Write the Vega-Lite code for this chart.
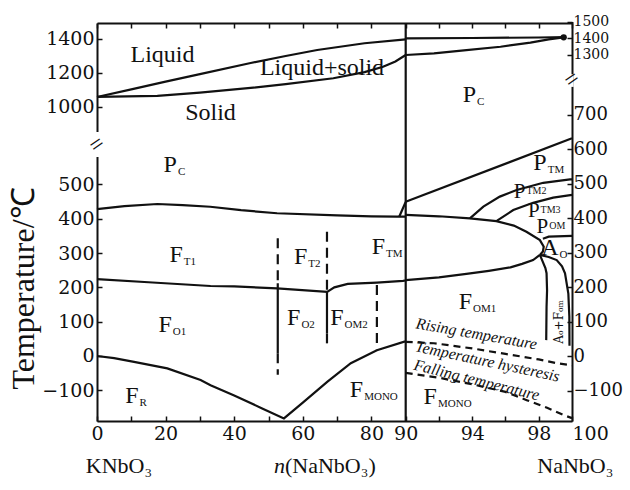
{
  "$schema": "https://vega.github.io/schema/vega-lite/v6.json",
  "width": 475,
  "height": 398,
  "autosize": "none",
  "padding": {"left": 97, "top": 23, "right": 58, "bottom": 69},
  "background": "white",
  "config": {"view": {"stroke": null}},
  "datasets": {
    "solidL": [
      {"id": "L1", "o": 0, "x": 0, "y": 1059}, {"id": "L1", "o": 1, "x": 10, "y": 1104}, {"id": "L1", "o": 2, "x": 20, "y": 1149}, {"id": "L1", "o": 3, "x": 30, "y": 1193}, {"id": "L1", "o": 4, "x": 44.8, "y": 1259}, {"id": "L1", "o": 5, "x": 55, "y": 1300}, {"id": "L1", "o": 6, "x": 64.2, "y": 1335}, {"id": "L1", "o": 7, "x": 78, "y": 1375}, {"id": "L1", "o": 8, "x": 90, "y": 1398},
      {"id": "L2", "o": 0, "x": 0, "y": 1059}, {"id": "L2", "o": 1, "x": 17.6, "y": 1065}, {"id": "L2", "o": 2, "x": 30, "y": 1085}, {"id": "L2", "o": 3, "x": 44.8, "y": 1112}, {"id": "L2", "o": 4, "x": 55, "y": 1135}, {"id": "L2", "o": 5, "x": 68.9, "y": 1169}, {"id": "L2", "o": 6, "x": 78, "y": 1205}, {"id": "L2", "o": 7, "x": 83.4, "y": 1237}, {"id": "L2", "o": 8, "x": 87, "y": 1268}, {"id": "L2", "o": 9, "x": 90, "y": 1306},
      {"id": "L3", "o": 0, "x": 0, "y": 428}, {"id": "L3", "o": 1, "x": 8, "y": 437}, {"id": "L3", "o": 2, "x": 17.6, "y": 443}, {"id": "L3", "o": 3, "x": 25, "y": 440}, {"id": "L3", "o": 4, "x": 33, "y": 435}, {"id": "L3", "o": 5, "x": 42, "y": 425}, {"id": "L3", "o": 6, "x": 52.5, "y": 416}, {"id": "L3", "o": 7, "x": 70, "y": 410}, {"id": "L3", "o": 8, "x": 80, "y": 407}, {"id": "L3", "o": 9, "x": 87.4, "y": 406}, {"id": "L3", "o": 10, "x": 90, "y": 406},
      {"id": "L3b", "o": 0, "x": 88.1, "y": 406}, {"id": "L3b", "o": 1, "x": 90, "y": 449},
      {"id": "L4", "o": 0, "x": 0, "y": 224}, {"id": "L4", "o": 1, "x": 15, "y": 215}, {"id": "L4", "o": 2, "x": 33.1, "y": 204}, {"id": "L4", "o": 3, "x": 40, "y": 203}, {"id": "L4", "o": 4, "x": 52.5, "y": 197}, {"id": "L4", "o": 5, "x": 67.1, "y": 187}, {"id": "L4", "o": 6, "x": 69.2, "y": 200}, {"id": "L4", "o": 7, "x": 73.1, "y": 210}, {"id": "L4", "o": 8, "x": 81.6, "y": 214}, {"id": "L4", "o": 9, "x": 89.2, "y": 219}, {"id": "L4", "o": 10, "x": 90, "y": 220},
      {"id": "L5", "o": 0, "x": 0, "y": 0}, {"id": "L5", "o": 1, "x": 5, "y": -6}, {"id": "L5", "o": 2, "x": 10.8, "y": -17}, {"id": "L5", "o": 3, "x": 20.5, "y": -36}, {"id": "L5", "o": 4, "x": 30.2, "y": -70}, {"id": "L5", "o": 5, "x": 33.1, "y": -85}, {"id": "L5", "o": 6, "x": 40, "y": -115}, {"id": "L5", "o": 7, "x": 48, "y": -152}, {"id": "L5", "o": 8, "x": 54.5, "y": -182}, {"id": "L5", "o": 9, "x": 60, "y": -136}, {"id": "L5", "o": 10, "x": 67.2, "y": -75}, {"id": "L5", "o": 11, "x": 74, "y": -21}, {"id": "L5", "o": 12, "x": 81.6, "y": 17}, {"id": "L5", "o": 13, "x": 89.6, "y": 42}, {"id": "L5", "o": 14, "x": 90, "y": 42},
      {"id": "V1s", "o": 0, "x": 52.7, "y": 212}, {"id": "V1s", "o": 1, "x": 52.7, "y": 8},
      {"id": "V2s", "o": 0, "x": 67.05, "y": 187}, {"id": "V2s", "o": 1, "x": 67.05, "y": 66},
      {"id": "V90", "o": 0, "x": 90, "y": -189.5}, {"id": "V90", "o": 1, "x": 90, "y": 1494}
    ],
    "dashL": [
      {"id": "V1a", "o": 0, "x": 52.7, "y": 343}, {"id": "V1a", "o": 1, "x": 52.7, "y": 212},
      {"id": "V1b", "o": 0, "x": 52.7, "y": 8}, {"id": "V1b", "o": 1, "x": 52.7, "y": -55},
      {"id": "V2a", "o": 0, "x": 67.05, "y": 362}, {"id": "V2a", "o": 1, "x": 67.05, "y": 187},
      {"id": "V2b", "o": 0, "x": 67.05, "y": 66}, {"id": "V2b", "o": 1, "x": 67.05, "y": 27},
      {"id": "V3", "o": 0, "x": 81.6, "y": 207}, {"id": "V3", "o": 1, "x": 81.6, "y": 20}
    ],
    "solidR": [
      {"id": "R1", "o": 0, "x": 90, "y": 1398}, {"id": "R1", "o": 1, "x": 94, "y": 1400}, {"id": "R1", "o": 2, "x": 98, "y": 1403}, {"id": "R1", "o": 3, "x": 99.6, "y": 1405},
      {"id": "R2", "o": 0, "x": 90, "y": 1297}, {"id": "R2", "o": 1, "x": 91.7, "y": 1307}, {"id": "R2", "o": 2, "x": 93.5, "y": 1325}, {"id": "R2", "o": 3, "x": 95.7, "y": 1347}, {"id": "R2", "o": 4, "x": 97.5, "y": 1372}, {"id": "R2", "o": 5, "x": 98.6, "y": 1392}, {"id": "R2", "o": 6, "x": 99.6, "y": 1405},
      {"id": "R3", "o": 0, "x": 90, "y": 447}, {"id": "R3", "o": 1, "x": 100, "y": 631},
      {"id": "R4", "o": 0, "x": 90, "y": 409}, {"id": "R4", "o": 1, "x": 92, "y": 405}, {"id": "R4", "o": 2, "x": 93.86, "y": 399}, {"id": "R4", "o": 3, "x": 95.45, "y": 391}, {"id": "R4", "o": 4, "x": 96.5, "y": 378}, {"id": "R4", "o": 5, "x": 97.26, "y": 360}, {"id": "R4", "o": 6, "x": 98.07, "y": 336}, {"id": "R4", "o": 7, "x": 98.3, "y": 317}, {"id": "R4", "o": 8, "x": 98.25, "y": 303}, {"id": "R4", "o": 9, "x": 98.07, "y": 293},
      {"id": "R5", "o": 0, "x": 90, "y": 220}, {"id": "R5", "o": 1, "x": 92, "y": 228}, {"id": "R5", "o": 2, "x": 93.65, "y": 238}, {"id": "R5", "o": 3, "x": 95, "y": 247}, {"id": "R5", "o": 4, "x": 96.3, "y": 257}, {"id": "R5", "o": 5, "x": 97, "y": 267}, {"id": "R5", "o": 6, "x": 97.66, "y": 278}, {"id": "R5", "o": 7, "x": 98.07, "y": 293},
      {"id": "R6", "o": 0, "x": 93.86, "y": 399}, {"id": "R6", "o": 1, "x": 94.67, "y": 433}, {"id": "R6", "o": 2, "x": 95.66, "y": 462}, {"id": "R6", "o": 3, "x": 96.67, "y": 481}, {"id": "R6", "o": 4, "x": 98.27, "y": 502}, {"id": "R6", "o": 5, "x": 99.88, "y": 512}, {"id": "R6", "o": 6, "x": 100, "y": 512},
      {"id": "R7", "o": 0, "x": 95.45, "y": 391}, {"id": "R7", "o": 1, "x": 96.47, "y": 423}, {"id": "R7", "o": 2, "x": 97.66, "y": 444}, {"id": "R7", "o": 3, "x": 98.87, "y": 459}, {"id": "R7", "o": 4, "x": 100, "y": 467},
      {"id": "R8", "o": 0, "x": 98.25, "y": 340}, {"id": "R8", "o": 1, "x": 98.6, "y": 346}, {"id": "R8", "o": 2, "x": 100, "y": 348},
      {"id": "R9", "o": 0, "x": 98.07, "y": 293}, {"id": "R9", "o": 1, "x": 98.4, "y": 255}, {"id": "R9", "o": 2, "x": 98.47, "y": 240}, {"id": "R9", "o": 3, "x": 98.5, "y": 190}, {"id": "R9", "o": 4, "x": 98.47, "y": 143}, {"id": "R9", "o": 5, "x": 98.45, "y": 46},
      {"id": "R10", "o": 0, "x": 98.07, "y": 293}, {"id": "R10", "o": 1, "x": 98.6, "y": 287}, {"id": "R10", "o": 2, "x": 99.08, "y": 278}, {"id": "R10", "o": 3, "x": 99.4, "y": 260}, {"id": "R10", "o": 4, "x": 99.58, "y": 240}, {"id": "R10", "o": 5, "x": 99.78, "y": 181}, {"id": "R10", "o": 6, "x": 99.84, "y": 114}, {"id": "R10", "o": 7, "x": 99.85, "y": 30}
    ],
    "dashR": [
      {"id": "D1", "o": 0, "x": 90, "y": 41}, {"id": "D1", "o": 1, "x": 91.7, "y": 37}, {"id": "D1", "o": 2, "x": 94, "y": 22}, {"id": "D1", "o": 3, "x": 96, "y": 6}, {"id": "D1", "o": 4, "x": 98, "y": -10}, {"id": "D1", "o": 5, "x": 99.1, "y": -21}, {"id": "D1", "o": 6, "x": 100, "y": -27},
      {"id": "D2", "o": 0, "x": 90, "y": -49}, {"id": "D2", "o": 1, "x": 92, "y": -63}, {"id": "D2", "o": 2, "x": 94, "y": -82}, {"id": "D2", "o": 3, "x": 96, "y": -104}, {"id": "D2", "o": 4, "x": 97.28, "y": -128}, {"id": "D2", "o": 5, "x": 98.5, "y": -150}, {"id": "D2", "o": 6, "x": 99.48, "y": -171}, {"id": "D2", "o": 7, "x": 100, "y": -180}
    ],
    "labL": [
      {"x": 23.3, "y": 557, "m": "P", "s": "C"},
      {"x": 25, "y": 294, "m": "F", "s": "T1"},
      {"x": 21.8, "y": 90, "m": "F", "s": "O1"},
      {"x": 12.1, "y": -117, "m": "F", "s": "R"},
      {"x": 61.3, "y": 288, "m": "F", "s": "T2"},
      {"x": 59.3, "y": 110, "m": "F", "s": "O2"},
      {"x": 71.9, "y": 110, "m": "F", "s": "OM2"},
      {"x": 84, "y": 318, "m": "F", "s": "TM"},
      {"x": 77.6, "y": -99, "m": "F", "s": "MONO"}
    ],
    "labR": [
      {"x": 94.23, "y": 757, "m": "P", "s": "C"},
      {"x": 98.48, "y": 558, "m": "P", "s": "TM"},
      {"x": 99.19, "y": 312, "m": "A", "s": "O"},
      {"x": 93.99, "y": 157, "m": "F", "s": "OM1"},
      {"x": 91.88, "y": -118, "m": "F", "s": "MONO"}
    ],
    "labR2": [
      {"x": 97.2, "y": 474, "m": "P", "s": "TM2"},
      {"x": 98.05, "y": 421, "m": "P", "s": "TM3"},
      {"x": 98.57, "y": 374, "m": "P", "s": "OM"}
    ],
    "plainL": [
      {"x": 19.1, "y": 1306, "t": "Liquid"},
      {"x": 65.6, "y": 1228, "t": "Liquid+solid"},
      {"x": 33.1, "y": 963, "t": "Solid"}
    ],
    "botL": [
      {"x": 6.4, "y": -320.7, "t": "KNbO₃"},
      {"x": 100.2, "y": -320.7, "t": "NaNbO₃"}
    ]
  },
  "layer": [
    {
      "encoding": {
        "x": {"field": "x", "type": "quantitative",
          "scale": {"domain": [0, 90, 100], "range": [0, 308.7, 475], "nice": false, "zero": false},
          "axis": {"orient": "bottom", "values": [0, 10, 20, 30, 40, 50, 60, 70, 80, 90, 92, 94, 96, 98, 100],
            "labelExpr": "indexof([0,20,40,60,80,90,94,98,100], datum.value) >= 0 ? datum.label : ''",
            "labelAlign": {"condition": {"test": "datum.value == 100", "value": "left"}, "value": "center"},
            "labelFont": "DejaVu Serif", "labelFontSize": 19, "labelColor": "#111", "labelPadding": 8, "labelFlush": false, "labelOverlap": false,
            "tickColor": "#111", "tickSize": -5, "tickWidth": 1.5, "domainColor": "#111", "domainWidth": 2, "grid": false, "title": null}},
        "y": {"field": "y", "type": "quantitative",
          "scale": {"domain": [-189.5, 615, 776.5, 1494], "range": [398, 122, 122, 0], "nice": false, "zero": false},
          "axis": {"orient": "left", "values": [-100, 0, 100, 200, 300, 400, 500, 1000, 1200, 1400], "format": "d",
            "labelFont": "DejaVu Serif", "labelFontSize": 19, "labelColor": "#111", "labelPadding": 8, "labelFlush": false, "labelOverlap": false,
            "tickColor": "#111", "tickSize": -5, "tickWidth": 1.5, "domainColor": "#111", "domainWidth": 2, "grid": false,
            "title": "Temperature/℃", "titleFont": "Liberation Serif", "titleFontSize": 32, "titleFontWeight": "normal", "titleColor": "#111",
            "titleX": -74, "titleY": 265, "titleAngle": 270, "titleAlign": "center", "titleBaseline": "middle"}}
      },
      "layer": [
        {"data": {"name": "solidL"}, "mark": {"type": "line", "color": "#111", "strokeWidth": 2.2},
          "encoding": {"detail": {"field": "id"}, "order": {"field": "o", "type": "quantitative"}}},
        {"data": {"name": "dashL"}, "mark": {"type": "line", "color": "#111", "strokeWidth": 2.2, "strokeDash": [10, 6]},
          "encoding": {"detail": {"field": "id"}, "order": {"field": "o", "type": "quantitative"}}},
        {"data": {"values": [{"x": -1.6, "x2": 1.6, "y": 580, "y2": 853}]}, "mark": {"type": "rect", "color": "white"},
          "encoding": {"x2": {"field": "x2"}, "y2": {"field": "y2"}}},
        {"data": {"values": [{"x": 0, "y": 700}]}, "mark": {"type": "text", "text": "=", "font": "Liberation Serif", "fontSize": 24, "angle": -35, "color": "#111", "align": "center", "baseline": "middle"}},
        {"data": {"name": "labL"}, "mark": {"type": "text", "align": "right", "baseline": "middle", "font": "Liberation Serif", "fontSize": 24, "color": "#111"},
          "encoding": {"text": {"field": "m"}}},
        {"data": {"name": "labL"}, "mark": {"type": "text", "align": "left", "baseline": "middle", "dy": 7, "dx": 1, "font": "Liberation Serif", "fontSize": 11, "color": "#111"},
          "encoding": {"text": {"field": "s"}}},
        {"data": {"name": "plainL"}, "mark": {"type": "text", "align": "center", "baseline": "middle", "font": "Liberation Serif", "fontSize": 24, "color": "#111"},
          "encoding": {"text": {"field": "t"}}},
        {"data": {"name": "botL"}, "mark": {"type": "text", "align": "center", "baseline": "middle", "font": "Liberation Serif", "fontSize": 22, "color": "#111"},
          "encoding": {"text": {"field": "t"}}},
        {"data": {"values": [{"x": 54.8, "y": -320.7}]}, "mark": {"type": "text", "text": "n", "align": "right", "baseline": "middle", "font": "Liberation Serif", "fontStyle": "italic", "fontSize": 22, "color": "#111"}},
        {"data": {"values": [{"x": 54.8, "y": -320.7}]}, "mark": {"type": "text", "text": "(NaNbO₃)", "align": "left", "baseline": "middle", "font": "Liberation Serif", "fontSize": 22, "color": "#111"}}
      ]
    },
    {
      "encoding": {
        "x": {"field": "x", "type": "quantitative",
          "scale": {"domain": [0, 90, 100], "range": [0, 308.7, 475], "nice": false, "zero": false},
          "axis": {"orient": "top", "values": [0, 10, 20, 30, 40, 50, 60, 70, 80, 90, 92, 94, 96, 98, 100], "labels": false,
            "tickColor": "#111", "tickSize": -5, "tickWidth": 1.5, "domainColor": "#111", "domainWidth": 2, "grid": false, "title": null}},
        "y": {"field": "y", "type": "quantitative",
          "scale": {"domain": [-188.4, 800, 1145.5, 1500], "range": [398, 57, 57, -1.5], "nice": false, "zero": false},
          "axis": {"orient": "right", "values": [-100, 0, 100, 200, 300, 400, 500, 600, 700, 1300, 1400, 1500], "format": "d",
            "labelFont": "DejaVu Serif",
            "labelFontSize": {"condition": {"test": "datum.value >= 1300", "value": 14}, "value": 18},
            "labelColor": "#111", "labelPadding": 6, "labelFlush": false, "labelOverlap": false,
            "tickColor": "#111", "tickSize": -5, "tickWidth": 1.5, "domainColor": "#111", "domainWidth": 2, "grid": false, "title": null}}
      },
      "layer": [
        {"data": {"name": "solidR"}, "mark": {"type": "line", "color": "#111", "strokeWidth": 2.2},
          "encoding": {"detail": {"field": "id"}, "order": {"field": "o", "type": "quantitative"}}},
        {"data": {"name": "dashR"}, "mark": {"type": "line", "color": "#111", "strokeWidth": 2.2, "strokeDash": [7, 5]},
          "encoding": {"detail": {"field": "id"}, "order": {"field": "o", "type": "quantitative"}}},
        {"data": {"values": [{"x": 99.5, "y": 1404}]}, "mark": {"type": "point", "filled": true, "size": 40, "color": "#111", "opacity": 1}},
        {"data": {"values": [{"x": 99.9, "x2": 100.1, "y": 780, "y2": 1180}]}, "mark": {"type": "rect", "color": "white"},
          "encoding": {"x2": {"field": "x2"}, "y2": {"field": "y2"}}},
        {"data": {"values": [{"x": 100, "y": 1000}]}, "mark": {"type": "text", "text": "=", "font": "Liberation Serif", "fontSize": 24, "angle": -35, "color": "#111", "align": "center", "baseline": "middle"}},
        {"data": {"name": "labR"}, "mark": {"type": "text", "align": "right", "baseline": "middle", "font": "Liberation Serif", "fontSize": 24, "color": "#111"},
          "encoding": {"text": {"field": "m"}}},
        {"data": {"name": "labR"}, "mark": {"type": "text", "align": "left", "baseline": "middle", "dy": 7, "dx": 1, "font": "Liberation Serif", "fontSize": 11, "color": "#111"},
          "encoding": {"text": {"field": "s"}}},
        {"data": {"name": "labR2"}, "mark": {"type": "text", "align": "right", "baseline": "middle", "font": "Liberation Serif", "fontSize": 21, "color": "#111"},
          "encoding": {"text": {"field": "m"}}},
        {"data": {"name": "labR2"}, "mark": {"type": "text", "align": "left", "baseline": "middle", "dy": -1, "dx": 1, "font": "Liberation Serif", "fontSize": 10, "color": "#111"},
          "encoding": {"text": {"field": "s"}}},
        {"data": {"values": [{"x": 94.26, "y": 64}]}, "mark": {"type": "text", "text": "Rising temperature", "angle": 10, "align": "center", "baseline": "middle", "font": "Liberation Serif", "fontStyle": "italic", "fontSize": 16, "color": "#111"}},
        {"data": {"values": [{"x": 94.92, "y": -16}]}, "mark": {"type": "text", "text": "Temperature hysteresis", "angle": 12, "align": "center", "baseline": "middle", "font": "Liberation Serif", "fontStyle": "italic", "fontSize": 16, "color": "#111"}},
        {"data": {"values": [{"x": 94.26, "y": -70}]}, "mark": {"type": "text", "text": "Falling temperature", "angle": 14, "align": "center", "baseline": "middle", "font": "Liberation Serif", "fontStyle": "italic", "fontSize": 16, "color": "#111"}},
        {"data": {"values": [{"x": 99.2, "y": 99}]}, "mark": {"type": "text", "text": "Aₒ+Fₒₘ", "angle": 270, "align": "center", "baseline": "middle", "font": "DejaVu Serif", "fontSize": 12, "color": "#111"}}
      ]
    }
  ],
  "resolve": {"scale": {"y": "independent"}, "axis": {"x": "independent", "y": "independent"}}
}
